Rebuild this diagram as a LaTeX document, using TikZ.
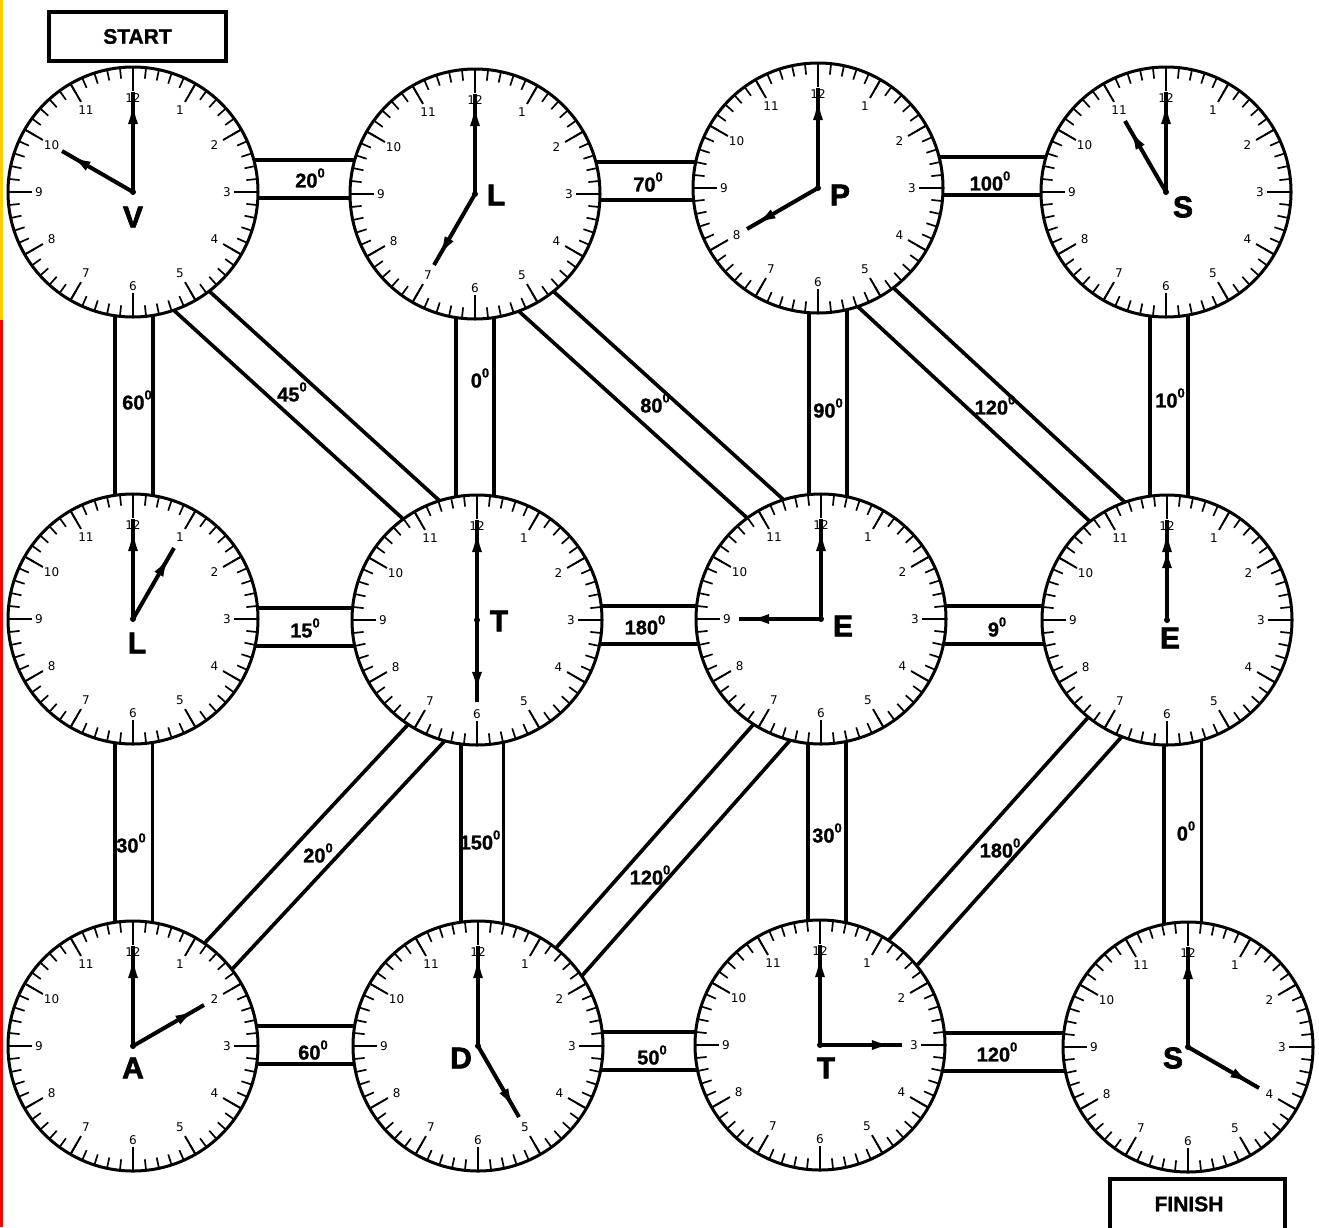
\documentclass[tikz,border=0pt]{standalone}
\usepackage{fontspec}
\setmainfont{Liberation Sans}
\newfontfamily\numfont{DejaVu Sans}
\newfontfamily\heavy{Liberation Sans Bold}[FakeBold=1.2]
\newfontfamily\heavier{Liberation Sans Bold}[FakeBold=2.2]
\usetikzlibrary{calc,arrows.meta,decorations.markings}
\pgfdeclarelayer{back}
\pgfdeclarelayer{bg}
\pgfsetlayers{back,bg,main}
\definecolor{ylw}{RGB}{255,204,0}
\tikzset{
  face/.style={circle, draw, line width=3pt, fill=white, minimum size=250pt, inner sep=0pt},
  mtick/.style={line width=1.7pt},
  htick/.style={line width=1.9pt},
  num/.style={font=\numfont\fontsize{12}{12}\selectfont, inner sep=0pt},
  letter/.style={font=\heavier\fontsize{30}{30}\selectfont, inner sep=0pt},
  bridge/.style={line width=3.8pt, double=white, double distance=34pt},
  deg/.style={font=\heavy\fontsize{20}{20}\selectfont, inner sep=0pt},
  hand/.style={line width=3.3pt},
  hhand/.style={line width=4pt},
  harrow/.style={postaction={decorate}, decoration={markings, mark=at position #1 with {\arrow{Latex[length=22pt,width=10pt]}}}},
  boxtext/.style={font=\heavy\fontsize{21}{21}\selectfont},
}
\newcommand\dg[1]{#1\raisebox{10pt}{\fontsize{13}{13}\selectfont 0}}
\newcommand\clock[6]{%
  \node[face] (#1) at (#2,#3) {};
  \begin{scope}[shift={(#2,#3)}]
    \foreach \m in {0,...,59} \draw[mtick] (6*\m-90:114) -- (6*\m-90:125);
    \foreach \h in {1,...,12} {\draw[htick] (30*\h-90:104) -- (30*\h-90:125);
      \node[num] (#1-n\h) at (30*\h-90:94) {\h};}
    \foreach \q in {0,90,180,270} \draw[htick] (\q:101) -- (\q:125);
    \draw[hand, harrow=0.9] (0,0) -- (-90:100);
    \draw[hhand, harrow=0.9] (0,0) -- (30*#4-90:82);
    \fill (0,0) circle (3pt);
    \node[letter] (#1-l) at #6 {#5};
  \end{scope}
}
\begin{document}
\begin{tikzpicture}[x=1pt, y=-1pt]
\path[use as bounding box] (0,0) rectangle (1319,1227);
\begin{pgfonlayer}{back}
\fill[white] (0,0) rectangle (1319,1227);
\fill[ylw] (0,0) rectangle (3,320);
\fill[red] (0,320) rectangle (3,1227);
\end{pgfonlayer}

% clocks
\clock{V}{133}{192}{10}{V}{(0,25)}
\clock{L1}{475}{194}{7}{L}{(21,1)}
\clock{P}{818}{188}{8}{P}{(22,7)}
\clock{S1}{1166}{192}{11}{S}{(17,15)}
\clock{L2}{133}{619}{1}{L}{(4,24)}
\clock{T2}{477}{620}{6}{T}{(22,1)}
\clock{E2}{821}{619}{9}{E}{(22,7)}
\clock{E2b}{1167}{620}{12}{E}{(3,18)}
\clock{A}{133}{1046}{2}{A}{(0,22)}
\clock{D}{478}{1046}{5}{D}{(-17,12)}
\clock{T3}{820}{1045}{3}{T}{(6,23)}
\clock{S3}{1188}{1047}{4}{S}{(-15,11)}

% bridges
\begin{pgfonlayer}{bg}
  % horizontal
  \draw[bridge] ($(V)+(0,-13)$) -- ($(L1)+(0,-15)$);
  \draw[bridge] ($(L1)+(0,-13)$) -- ($(P)+(0,-7)$);
  \draw[bridge] ($(P)+(0,-12)$) -- ($(S1)+(0,-16)$);
  \draw[bridge] ($(L2)+(0,8)$) -- ($(T2)+(0,7)$);
  \draw[bridge] ($(T2)+(0,5)$) -- ($(E2)+(0,6)$);
  \draw[bridge] ($(E2)+(0,6)$) -- ($(E2b)+(0,5)$);
  \draw[bridge] ($(A)+(0,-1)$) -- ($(D)+(0,-1)$);
  \draw[bridge] ($(D)+(0,5)$) -- ($(T3)+(0,6)$);
  \draw[bridge] ($(T3)+(0,7)$) -- ($(S3)+(0,5)$);
  % vertical
  \draw[bridge] ($(V)+(1,0)$) -- ($(L2)+(1,0)$);
  \draw[bridge] ($(L1)+(0,0)$) -- ($(T2)+(-2,0)$);
  \draw[bridge] ($(P)+(10,0)$) -- ($(E2)+(7,0)$);
  \draw[bridge] ($(S1)+(3,0)$) -- ($(E2b)+(2,0)$);
  \draw[bridge] ($(L2)+(0.5,0)$) -- ($(A)+(0.5,0)$);
  \draw[bridge, double distance=39pt] ($(T2)+(5,0)$) -- ($(D)+(4,0)$);
  \draw[bridge] ($(E2)+(6,0)$) -- ($(T3)+(7,0)$);
  \draw[bridge] ($(E2b)+(15.5,0)$) -- ($(S3)+(-5.5,0)$);
  % diagonal
  \coordinate (d1s) at ($(V)+(60.5,110.5)$);   \coordinate (d1e) at ($(T2)+(-55.5,-110)$);
  \coordinate (d2s) at ($(L1)+(62.5,108.5)$);  \coordinate (d2e) at ($(E2)+(-56,-110.5)$);
  \coordinate (d3s) at ($(P)+(59.5,111)$);     \coordinate (d3e) at ($(E2b)+(-60.5,-109)$);
  \coordinate (d4s) at ($(A)+(85.5,-90)$);     \coordinate (d4e) at ($(T2)+(-49.5,111.5)$);
  \coordinate (d5s) at ($(D)+(93.5,-87)$);     \coordinate (d5e) at ($(E2)+(-48.5,112.5)$);
  \coordinate (d6s) at ($(T3)+(84,-93.5)$);    \coordinate (d6e) at ($(E2b)+(-62.5,107.5)$);
  \foreach \i in {1,...,6}
    \draw[bridge] ($(d\i s)!-0.3!(d\i e)$) -- ($(d\i s)!1.3!(d\i e)$);
\end{pgfonlayer}

% labels
\node[deg] (h1) at (310,178) {\dg{20}};
\node[deg] (h2) at (648,182) {\dg{70}};
\node[deg] (h3) at (990,181) {\dg{100}};
\node[deg] (h4) at (305,628) {\dg{15}};
\node[deg] (h5) at (645,625) {\dg{180}};
\node[deg] (h6) at (997,627) {\dg{9}};
\node[deg] (h7) at (313,1050) {\dg{60}};
\node[deg] (h8) at (652,1055) {\dg{50}};
\node[deg] (h9) at (997,1052) {\dg{120}};
\node[deg] (v1) at (137,400) {\dg{60}};
\node[deg] (v2) at (480,378) {\dg{0}};
\node[deg] (v3) at (828,408) {\dg{90}};
\node[deg] (v4) at (1170,398) {\dg{10}};
\node[deg] (v5) at (131,843) {\dg{30}};
\node[deg] (v6) at (480,840) {\dg{150}};
\node[deg] (v7) at (827,833) {\dg{30}};
\node[deg] (v8) at (1186,831) {\dg{0}};
\node[deg] (g1) at (292,392) {\dg{45}};
\node[deg] (g2) at (655,403) {\dg{80}};
\node[deg] (g3) at (995,405) {\dg{120}};
\node[deg] (g4) at (318,853) {\dg{20}};
\node[deg] (g5) at (650,875) {\dg{120}};
\node[deg] (g6) at (1000,848) {\dg{180}};

% start / finish
\node[draw, line width=4pt, minimum width=177pt, minimum height=49pt, inner sep=0pt, boxtext] (start) at (137.5,36.5) {START};
\node[boxtext] (finish) at (1189,1204) {FINISH};
\draw[line width=4pt] (1110,1240) -- (1110,1179) -- (1285,1179) -- (1285,1240);
\end{tikzpicture}
\end{document}
